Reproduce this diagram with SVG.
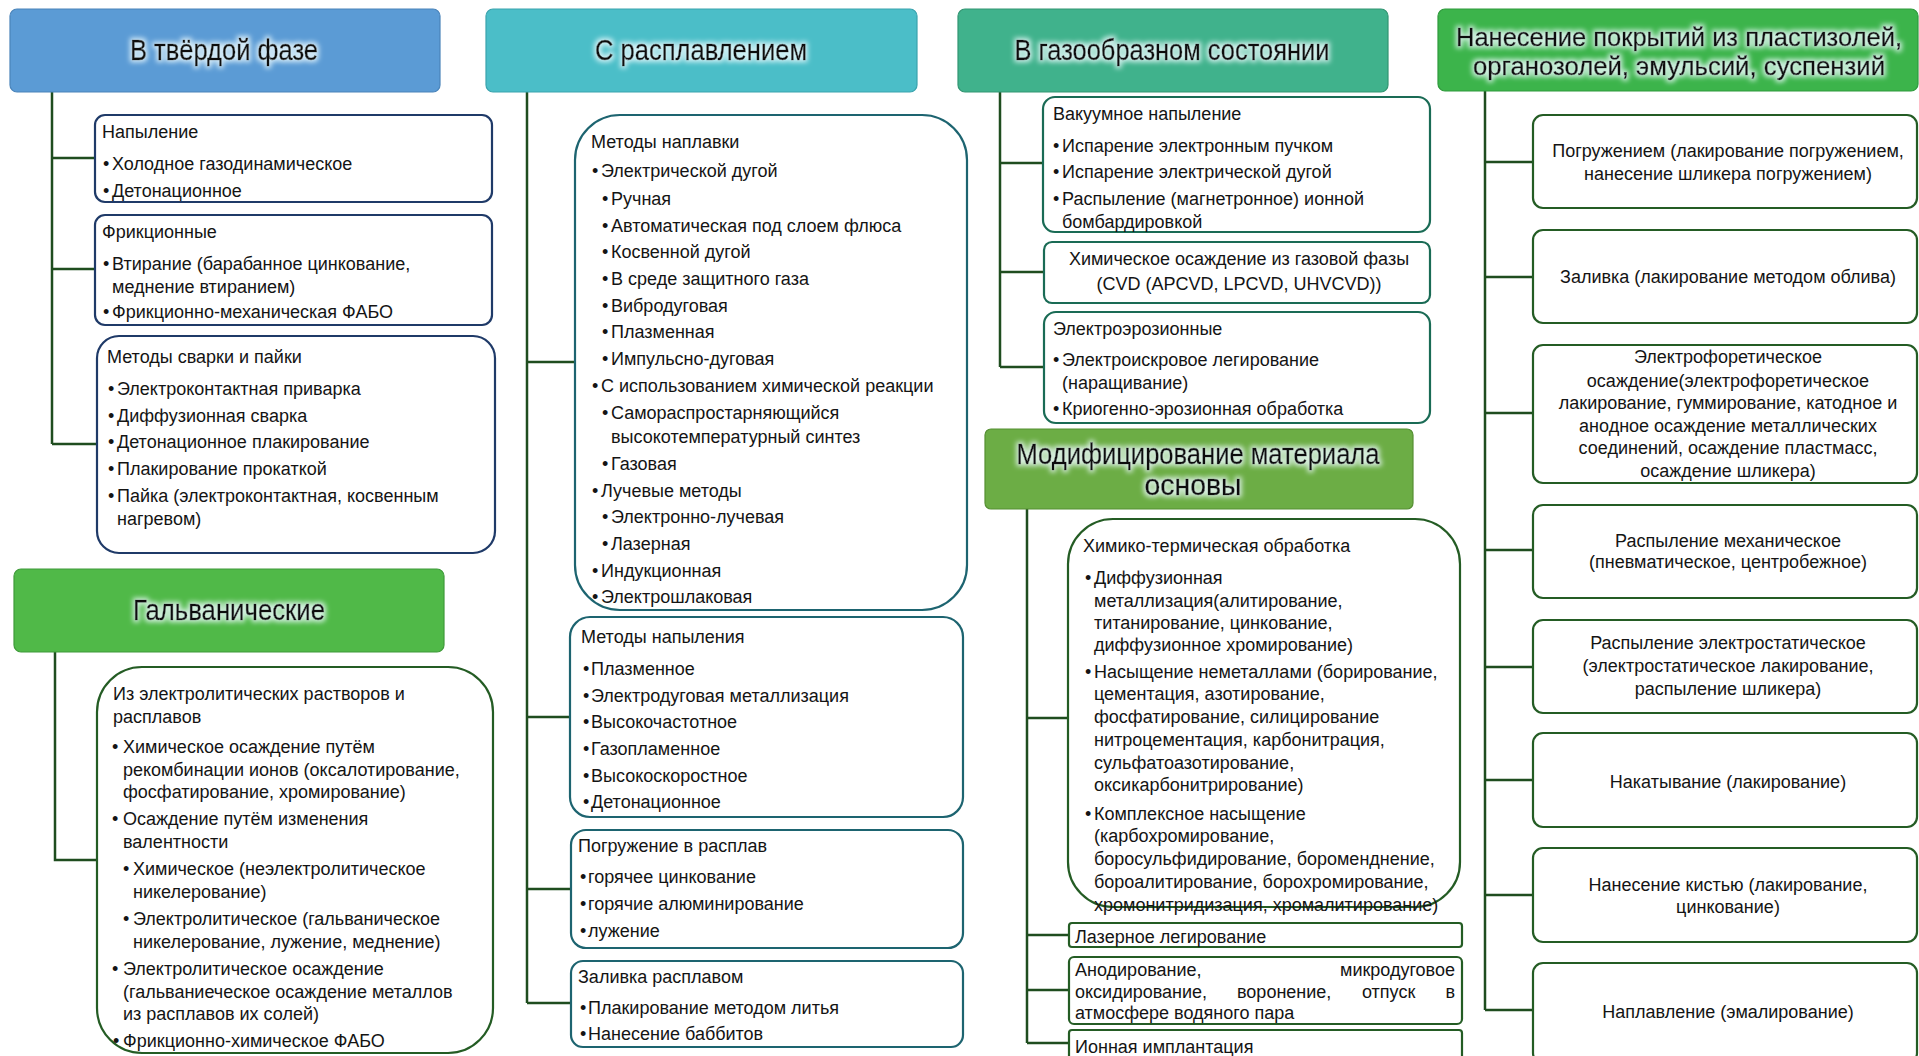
<svg xmlns="http://www.w3.org/2000/svg" width="1919" height="1056" viewBox="0 0 1919 1056">
<defs>
<filter id="glow" x="-10%" y="-40%" width="120%" height="180%">
<feMorphology in="SourceAlpha" operator="dilate" radius="1.5" result="d"/>
<feGaussianBlur in="d" stdDeviation="2.5" result="b"/>
<feFlood flood-color="#eefcff" flood-opacity="0.8"/>
<feComposite in2="b" operator="in" result="g"/>
<feMerge><feMergeNode in="g"/><feMergeNode in="SourceGraphic"/></feMerge>
</filter>
</defs>
<style>
text{font-family:"Liberation Sans",Arial,sans-serif;fill:#141414}
.t{font-size:18px}
.c{text-anchor:middle}
.e{text-anchor:end}
.h{font-size:29px;text-anchor:middle;fill:#0c0c0c;stroke:#0c0c0c;stroke-width:0.5;filter:url(#glow)}
.h2{font-size:25px}
.hb{stroke-width:1.2}
.conn{stroke:#1f4d1f;stroke-width:2.5;fill:none}
.bx{fill:#fff;stroke-width:2.2}
.nv{stroke:#1f3a68}
.tl{stroke:#1d6470}
.sg{stroke:#1a6b55}
.dg{stroke:#245c24}
</style>

<rect width="1919" height="1056" fill="#fff"/>

<g id="connectors">
<path class="conn" d="M52 92V444M52 158H95M52 269H95M52 444H97"/>
<path class="conn" d="M55 652V860H97"/>
<path class="conn" d="M527 92V1003M527 362H575M527 717H570M527 889H571M527 1003H571"/>
<path class="conn" d="M1000 92V367M1000 163H1043M1000 272H1044M1000 367H1044"/>
<path class="conn" d="M1027 509V1043M1027 718H1068M1027 935H1069M1027 990H1069M1027 1043H1069"/>
<path class="conn" d="M1485 91V1010M1485 162H1533M1485 277H1533M1485 413H1533M1485 550H1533M1485 667H1533M1485 780H1533M1485 895H1533M1485 1010H1533"/>
</g>

<g id="h-solid">
<rect class="hb" x="10" y="9" width="430" height="83" rx="7" fill="#5b9bd5" stroke="#4a84ba"/>
<text class="h" x="224" y="60" textLength="188" lengthAdjust="spacingAndGlyphs">В твёрдой фазе</text>
</g>

<g id="n-spray">
<rect class="bx nv" x="95" y="115" width="397" height="87" rx="10"/>
<text class="t" x="102" y="138">Напыление</text>
<text class="t" x="103" y="170">•</text><text class="t" x="112" y="170">Холодное газодинамическое</text>
<text class="t" x="103" y="197">•</text><text class="t" x="112" y="197">Детонационное</text>
</g>

<g id="n-friction">
<rect class="bx nv" x="95" y="215" width="397" height="110" rx="10"/>
<text class="t" x="102" y="238">Фрикционные</text>
<text class="t" x="103" y="270">•</text><text class="t" x="112" y="270">Втирание (барабанное цинкование,</text>
<text class="t" x="112" y="293">меднение втиранием)</text>
<text class="t" x="103" y="318">•</text><text class="t" x="112" y="318">Фрикционно-механическая ФАБО</text>
</g>

<g id="n-weld">
<rect class="bx nv" x="97" y="336" width="398" height="217" rx="22"/>
<text class="t" x="107" y="363">Методы сварки и пайки</text>
<text class="t" x="108" y="395">•</text><text class="t" x="117" y="395">Электроконтактная приварка</text>
<text class="t" x="108" y="422">•</text><text class="t" x="117" y="422">Диффузионная сварка</text>
<text class="t" x="108" y="448">•</text><text class="t" x="117" y="448">Детонационное плакирование</text>
<text class="t" x="108" y="475">•</text><text class="t" x="117" y="475">Плакирование прокаткой</text>
<text class="t" x="108" y="502">•</text><text class="t" x="117" y="502">Пайка (электроконтактная, косвенным</text>
<text class="t" x="117" y="525">нагревом)</text>
</g>

<g id="h-galv">
<rect class="hb" x="14" y="569" width="430" height="83" rx="7" fill="#50b948" stroke="#3f9a3a"/>
<text class="h" x="229" y="620" textLength="192" lengthAdjust="spacingAndGlyphs">Гальванические</text>
</g>

<g id="n-electrolyte">
<rect class="bx dg" x="97" y="667" width="396" height="386" rx="45"/>
<text class="t" x="113" y="700">Из электролитических растворов и</text>
<text class="t" x="113" y="723">расплавов</text>
<text class="t" x="112" y="753">•</text><text class="t" x="123" y="753">Химическое осаждение путём</text>
<text class="t" x="123" y="776">рекомбинации ионов (оксалотирование,</text>
<text class="t" x="123" y="798">фосфатирование, хромирование)</text>
<text class="t" x="112" y="825">•</text><text class="t" x="123" y="825">Осаждение путём изменения</text>
<text class="t" x="123" y="848">валентности</text>
<text class="t" x="123" y="875">•</text><text class="t" x="133" y="875">Химическое (неэлектролитическое</text>
<text class="t" x="133" y="898">никелерование)</text>
<text class="t" x="123" y="925">•</text><text class="t" x="133" y="925">Электролитическое (гальваническое</text>
<text class="t" x="133" y="948">никелерование, лужение, меднение)</text>
<text class="t" x="112" y="975">•</text><text class="t" x="123" y="975">Электролитическое осаждение</text>
<text class="t" x="123" y="998">(гальваниеческое осаждение металлов</text>
<text class="t" x="123" y="1020">из расплавов их солей)</text>
<text class="t" x="113" y="1047">•</text><text class="t" x="123" y="1047">Фрикционно-химическое ФАБО</text>
</g>

<g id="h-melt">
<rect class="hb" x="486" y="9" width="431" height="83" rx="7" fill="#4bbec8" stroke="#3aa3ad"/>
<text class="h" x="701" y="60" textLength="212" lengthAdjust="spacingAndGlyphs">С расплавлением</text>
</g>

<g id="n-surfacing">
<rect class="bx tl" x="575" y="115" width="392" height="495" rx="45"/>
<text class="t" x="591" y="148">Методы наплавки</text>
<text class="t" x="592" y="177">•</text><text class="t" x="601" y="177">Электрической дугой</text>
<text class="t" x="602" y="205">•</text><text class="t" x="611" y="205">Ручная</text>
<text class="t" x="602" y="232">•</text><text class="t" x="611" y="232">Автоматическая под слоем флюса</text>
<text class="t" x="602" y="258">•</text><text class="t" x="611" y="258">Косвенной дугой</text>
<text class="t" x="602" y="285">•</text><text class="t" x="611" y="285">В среде защитного газа</text>
<text class="t" x="602" y="312">•</text><text class="t" x="611" y="312">Вибродуговая</text>
<text class="t" x="602" y="338">•</text><text class="t" x="611" y="338">Плазменная</text>
<text class="t" x="602" y="365">•</text><text class="t" x="611" y="365">Импульсно-дуговая</text>
<text class="t" x="592" y="392">•</text><text class="t" x="601" y="392">С использованием химической реакции</text>
<text class="t" x="602" y="419">•</text><text class="t" x="611" y="419">Самораспростарняющийся</text>
<text class="t" x="611" y="443">высокотемпературный синтез</text>
<text class="t" x="602" y="470">•</text><text class="t" x="611" y="470">Газовая</text>
<text class="t" x="592" y="497">•</text><text class="t" x="601" y="497">Лучевые методы</text>
<text class="t" x="602" y="523">•</text><text class="t" x="611" y="523">Электронно-лучевая</text>
<text class="t" x="602" y="550">•</text><text class="t" x="611" y="550">Лазерная</text>
<text class="t" x="592" y="577">•</text><text class="t" x="601" y="577">Индукционная</text>
<text class="t" x="592" y="603">•</text><text class="t" x="601" y="603">Электрошлаковая</text>
</g>

<g id="n-thermal-spray">
<rect class="bx tl" x="570" y="617" width="393" height="200" rx="20"/>
<text class="t" x="581" y="643">Методы напыления</text>
<text class="t" x="583" y="675">•</text><text class="t" x="591" y="675">Плазменное</text>
<text class="t" x="583" y="702">•</text><text class="t" x="591" y="702">Электродуговая металлизация</text>
<text class="t" x="583" y="728">•</text><text class="t" x="591" y="728">Высокочастотное</text>
<text class="t" x="583" y="755">•</text><text class="t" x="591" y="755">Газопламенное</text>
<text class="t" x="583" y="782">•</text><text class="t" x="591" y="782">Высокоскоростное</text>
<text class="t" x="583" y="808">•</text><text class="t" x="591" y="808">Детонационное</text>
</g>

<g id="n-dip">
<rect class="bx tl" x="571" y="830" width="392" height="118" rx="15"/>
<text class="t" x="578" y="852">Погружение в расплав</text>
<text class="t" x="580" y="883">•</text><text class="t" x="588" y="883">горячее цинкование</text>
<text class="t" x="580" y="910">•</text><text class="t" x="588" y="910">горячие алюминирование</text>
<text class="t" x="580" y="937">•</text><text class="t" x="588" y="937">лужение</text>
</g>

<g id="n-pour">
<rect class="bx tl" x="571" y="961" width="392" height="86" rx="12"/>
<text class="t" x="578" y="983">Заливка расплавом</text>
<text class="t" x="580" y="1014">•</text><text class="t" x="588" y="1014">Плакирование методом литья</text>
<text class="t" x="580" y="1040">•</text><text class="t" x="588" y="1040">Нанесение баббитов</text>
</g>

<g id="h-gas">
<rect class="hb" x="958" y="9" width="430" height="83" rx="7" fill="#40b28c" stroke="#339572"/>
<text class="h" x="1172" y="60" textLength="315" lengthAdjust="spacingAndGlyphs">В газообразном состоянии</text>
</g>

<g id="n-vacuum">
<rect class="bx sg" x="1043" y="97" width="387" height="135" rx="12"/>
<text class="t" x="1053" y="120">Вакуумное напыление</text>
<text class="t" x="1053" y="152">•</text><text class="t" x="1062" y="152">Испарение электронным пучком</text>
<text class="t" x="1053" y="178">•</text><text class="t" x="1062" y="178">Испарение электрической дугой</text>
<text class="t" x="1053" y="205">•</text><text class="t" x="1062" y="205">Распыление (магнетронное) ионной</text>
<text class="t" x="1062" y="228">бомбардировкой</text>
</g>

<g id="n-cvd">
<rect class="bx sg" x="1044" y="242" width="386" height="61" rx="8"/>
<text class="t c" x="1239" y="265">Химическое осаждение из газовой фазы</text>
<text class="t c" x="1239" y="290">(CVD (APCVD, LPCVD, UHVCVD))</text>
</g>

<g id="n-erosion">
<rect class="bx sg" x="1044" y="312" width="386" height="111" rx="12"/>
<text class="t" x="1053" y="335">Электроэрозионные</text>
<text class="t" x="1053" y="366">•</text><text class="t" x="1062" y="366">Электроискровое легирование</text>
<text class="t" x="1062" y="389">(наращивание)</text>
<text class="t" x="1053" y="415">•</text><text class="t" x="1062" y="415">Криогенно-эрозионная обработка</text>
</g>

<g id="h-modif">
<rect class="hb" x="985" y="429" width="428" height="80" rx="6" fill="#6cad45" stroke="#558f33"/>
<text class="h" x="1198" y="464" textLength="363" lengthAdjust="spacingAndGlyphs">Модифицирование материала</text>
<text class="h" x="1193" y="495" textLength="97" lengthAdjust="spacingAndGlyphs">основы</text>
</g>

<g id="n-ctt">
<rect class="bx dg" x="1068" y="519" width="392" height="388" rx="45"/>
<text class="t" x="1083" y="552">Химико-термическая обработка</text>
<text class="t" x="1085" y="584">•</text><text class="t" x="1094" y="584">Диффузионная</text>
<text class="t" x="1094" y="607">металлизация(алитирование,</text>
<text class="t" x="1094" y="629">титанирование, цинкование,</text>
<text class="t" x="1094" y="651">диффузионное хромирование)</text>
<text class="t" x="1085" y="678">•</text><text class="t" x="1094" y="678">Насыщение неметаллами (борирование,</text>
<text class="t" x="1094" y="700">цементация, азотирование,</text>
<text class="t" x="1094" y="723">фосфатирование, силицирование</text>
<text class="t" x="1094" y="746">нитроцементация, карбонитрация,</text>
<text class="t" x="1094" y="769">сульфатоазотирование,</text>
<text class="t" x="1094" y="791">оксикарбонитрирование)</text>
<text class="t" x="1085" y="820">•</text><text class="t" x="1094" y="820">Комплексное насыщение</text>
<text class="t" x="1094" y="842">(карбохромирование,</text>
<text class="t" x="1094" y="865">боросульфидирование, бороменднение,</text>
<text class="t" x="1094" y="888">бороалитирование, борохромирование,</text>
<text class="t" x="1094" y="911">хромонитридизация, хромалитирование)</text>
</g>

<g id="n-laser">
<rect class="bx dg" x="1069" y="923" width="393" height="24" rx="3"/>
<text class="t" x="1075" y="943">Лазерное легирование</text>
</g>

<g id="n-anod">
<rect class="bx dg" x="1069" y="957" width="393" height="67" rx="5"/>
<text class="t" x="1075" y="976">Анодирование,</text>
<text class="t e" x="1455" y="976">микродуговое</text>
<text class="t" x="1075" y="998">оксидирование,</text>
<text class="t" x="1237" y="998">воронение,</text>
<text class="t" x="1362" y="998">отпуск</text>
<text class="t e" x="1455" y="998">в</text>
<text class="t" x="1075" y="1019">атмосфере водяного пара</text>
</g>

<g id="n-ion">
<rect class="bx dg" x="1069" y="1030" width="393" height="30" rx="3"/>
<text class="t" x="1075" y="1053">Ионная имплантация</text>
</g>

<g id="h-plast">
<rect class="hb" x="1438" y="9" width="480" height="82" rx="7" fill="#3cb44b" stroke="#2f9a3c"/>
<text class="h h2" x="1679" y="46" textLength="446" lengthAdjust="spacingAndGlyphs">Нанесение покрытий из пластизолей,</text>
<text class="h h2" x="1679" y="75" textLength="412" lengthAdjust="spacingAndGlyphs">органозолей, эмульсий, суспензий</text>
</g>

<g id="n-p1">
<rect class="bx dg" x="1533" y="115" width="384" height="93" rx="10"/>
<text class="t c" x="1728" y="157">Погружением (лакирование погружением,</text>
<text class="t c" x="1728" y="180">нанесение шликера погружением)</text>
</g>
<g id="n-p2">
<rect class="bx dg" x="1533" y="230" width="384" height="93" rx="10"/>
<text class="t c" x="1728" y="283">Заливка (лакирование методом облива)</text>
</g>
<g id="n-p3">
<rect class="bx dg" x="1533" y="345" width="384" height="138" rx="10"/>
<text class="t c" x="1728" y="363">Электрофоретическое</text>
<text class="t c" x="1728" y="387">осаждение(электрофоретическое</text>
<text class="t c" x="1728" y="409">лакирование, гуммирование, катодное и</text>
<text class="t c" x="1728" y="432">анодное осаждение металлических</text>
<text class="t c" x="1728" y="454">соединений, осаждение пластмасс,</text>
<text class="t c" x="1728" y="477">осаждение шликера)</text>
</g>
<g id="n-p4">
<rect class="bx dg" x="1533" y="505" width="384" height="93" rx="10"/>
<text class="t c" x="1728" y="547">Распыление механическое</text>
<text class="t c" x="1728" y="568">(пневматическое, центробежное)</text>
</g>
<g id="n-p5">
<rect class="bx dg" x="1533" y="620" width="384" height="93" rx="10"/>
<text class="t c" x="1728" y="649">Распыление электростатическое</text>
<text class="t c" x="1728" y="672">(электростатическое лакирование,</text>
<text class="t c" x="1728" y="695">распыление шликера)</text>
</g>
<g id="n-p6">
<rect class="bx dg" x="1533" y="733" width="384" height="94" rx="10"/>
<text class="t c" x="1728" y="788">Накатывание (лакирование)</text>
</g>
<g id="n-p7">
<rect class="bx dg" x="1533" y="848" width="384" height="94" rx="10"/>
<text class="t c" x="1728" y="891">Нанесение кистью (лакирование,</text>
<text class="t c" x="1728" y="913">цинкование)</text>
</g>
<g id="n-p8">
<rect class="bx dg" x="1533" y="963" width="384" height="100" rx="10"/>
<text class="t c" x="1728" y="1018">Наплавление (эмалирование)</text>
</g>
</svg>
